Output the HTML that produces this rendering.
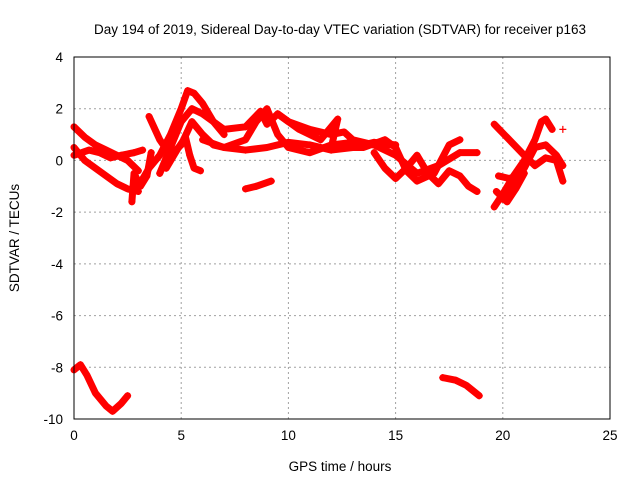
<!DOCTYPE html>
<html><head><meta charset="utf-8"><style>
body{margin:0;background:#fff;}
svg{display:block;font-family:"Liberation Sans",sans-serif;}
</style></head><body>
<svg id="chart" width="640" height="480" viewBox="0 0 640 480">
<text x="340" y="34" text-anchor="middle" font-size="13.5">Day 194 of 2019, Sidereal Day-to-day VTEC variation (SDTVAR) for receiver p163</text>
<text x="340" y="471" text-anchor="middle" font-size="13.5">GPS time / hours</text>
<text transform="translate(19,238) rotate(-90)" text-anchor="middle" font-size="13.5">SDTVAR / TECUs</text>
<g id="grid"></g><g id="ticks"></g><g id="marks"></g>
<rect x="74" y="57" width="536" height="362" fill="none" stroke="#000" stroke-width="1"/>
</svg>
<script>
const xTicks=[0,5,10,15,20,25];
const yTicks=[4,2,0,-2,-4,-6,-8,-10];
const trackA=[[0,1.3],[0.5,0.9],[1,0.6],[1.5,0.4],[2,0.2],[2.5,0],[3,-0.4]];
const trackB=[[0,0.5],[0.5,0],[1,-0.3],[1.5,-0.6],[2,-0.9],[2.5,-1.1],[3,-1.2]];
const trackC=[[0,0.2],[0.7,0.4],[1.2,0.3],[1.7,0.1],[2.2,0.2],[2.8,0.3],[3.2,0.4]];
const trackC2=[[2.7,-1.6],[2.8,-0.5],[3.1,-1],[3.4,-0.6],[3.6,0.3]];
const trackD=[[3,-1],[3.5,-0.3],[4,0.2],[4.5,1],[5,2],[5.3,2.7],[5.6,2.6],[6,2.2],[6.5,1.5],[7,1]];
const trackE=[[3.5,1.7],[4,0.8],[4.5,0.2],[5,0.6],[5.5,1.5],[6,1],[6.5,0.6],[7,0.5]];
const trackE2=[[4.3,-0.3],[4.8,0.4],[5.2,0.9],[5.4,0.2],[5.6,-0.3],[5.9,-0.4]];
const trackF=[[4,-0.5],[4.5,0.5],[5,1.5],[5.5,2],[6,1.8],[7,1.2],[8,1.3],[8.7,1.9],[9,1.4],[9.5,1.8],[10,1.5],[11,1.2],[12,1.0],[12.6,1.1],[13,0.8],[14,0.6],[15,0.6]];
const trackF2=[[6,0.8],[7,0.5],[8,0.4],[9,0.5],[10,0.7],[11,0.6],[12,0.4],[13,0.5],[14,0.7],[15,0.6]];
const trackG=[[7,0.5],[8,0.8],[8.5,1.5],[9,2],[9.5,1],[10,0.5],[11,0.3],[12,0.6],[13,0.7],[14,0.6],[15,0.2],[16,-0.5],[17,-0.2],[18,0.3],[18.8,0.3]];
const trackH=[[9.5,1.8],[10.5,1.2],[11.5,0.8],[12.3,1.6],[12,0.5],[13.5,0.5],[14.5,0.8],[15,0.5],[15.5,-0.4],[16,-0.8],[16.8,-0.5],[17.5,0.6],[18,0.8]];
const trackI=[[14,0.3],[14.5,-0.3],[15,-0.7],[15.5,-0.3],[16,0.2],[16.5,-0.5],[17,-0.9],[17.5,-0.4],[18,-0.6],[18.4,-1.0],[18.8,-1.2]];
const trackJ=[[8,-1.1],[8.5,-1.0],[9.2,-0.8]];
const trackK=[[19.6,-1.8],[20,-1.3],[20.5,-0.6],[21,0],[21.5,0.8],[21.8,1.5],[22,1.6],[22.3,1.2]];
const trackK2=[[19.7,-1.2],[20.2,-1.6],[20.6,-1.1],[21,-0.5],[20.3,-0.7],[19.8,-0.6]];
const trackL=[[19.6,1.4],[20.3,0.8],[21,0.2],[21.5,-0.2],[22,0.1],[22.5,0],[22.8,-0.8]];
const trackM=[[20,-1.5],[21,-0.3],[21.5,0.5],[22,0.6],[22.5,0.2],[22.8,-0.2]];
const trackN=[[22.8,1.2]];
const trackO=[[0,-8.1],[0.3,-7.9],[0.6,-8.3],[1,-9.0],[1.5,-9.5],[1.8,-9.7],[2.2,-9.4],[2.5,-9.1]];
const trackP=[[17.2,-8.4],[17.8,-8.5],[18.3,-8.7],[18.9,-9.1]];
const tracks=[trackA,trackB,trackC,trackC2,trackD,trackE,trackE2,trackF,trackF2,trackG,trackH,trackI,trackJ,trackK,trackK2,trackL,trackM,trackN,trackO,trackP];
const NS="http://www.w3.org/2000/svg";
const X=v=>74+v*(536/25), Y=v=>57+(4-v)*(362/14);
const grid=document.getElementById('grid'),ticks=document.getElementById('ticks'),marks=document.getElementById('marks');
function mk(t,a,p){const e=document.createElementNS(NS,t);for(const k in a)e.setAttribute(k,a[k]);p.appendChild(e);return e;}
xTicks.forEach(v=>{
 if(v>0&&v<25){const g=mk('line',{x1:X(v),x2:X(v),y1:57,y2:419,stroke:'#a0a0a0','stroke-dasharray':'2,3'},grid);
 
 }
 const t=mk('text',{x:X(v),y:440,'text-anchor':'middle','font-size':'13.5'},ticks);t.textContent=v;
 
 
});
yTicks.forEach(v=>{
 if(v<4&&v>-10){const g=mk('line',{x1:74,x2:610,y1:Y(v),y2:Y(v),stroke:'#a0a0a0','stroke-dasharray':'2,3'},grid);
 
 }
 const t=mk('text',{x:63,y:Y(v)+5,'text-anchor':'end','font-size':'13.5'},ticks);t.textContent=v;
 
 
});
tracks.forEach(tr=>{
 const pl=mk('polyline',{points:tr.map(p=>X(p[0])+','+Y(p[1])).join(' '),fill:'none',stroke:'#ff0000','stroke-width':7,'stroke-linejoin':'round','stroke-linecap':'round'},marks);
 
 
 tr.forEach(p=>{
  const m=mk('path',{d:`M${X(p[0])-3.5},${Y(p[1])}h7M${X(p[0])},${Y(p[1])-3.5}v7`,stroke:'#ff0000','stroke-width':1.2},marks);
  
  
 });
});
</script>
</body></html>
